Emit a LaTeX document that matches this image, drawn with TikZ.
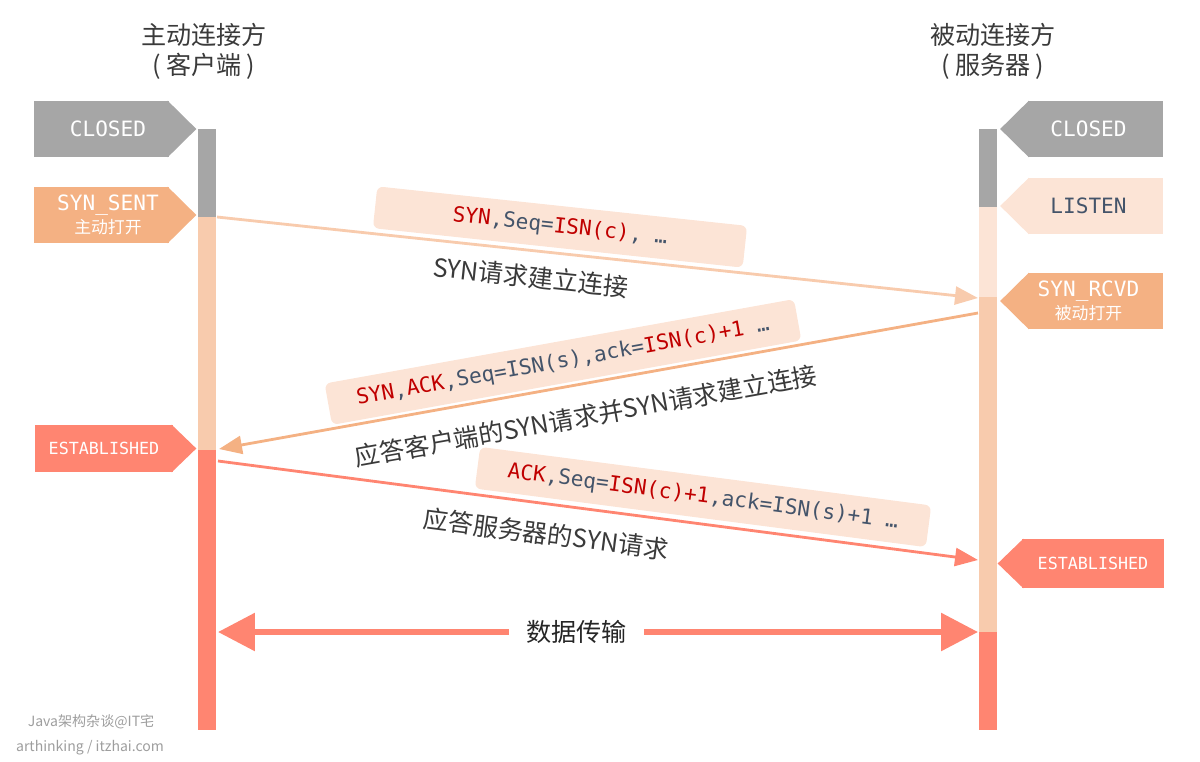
\documentclass[tikz,border=0pt]{standalone}
\usepackage{fontspec}
\setmainfont{Noto Sans CJK SC}
\setmonofont{DejaVu Sans Mono}
\usetikzlibrary{arrows.meta, positioning, calc}
\definecolor{TagGray}{HTML}{A6A6A6}
\definecolor{Peach}{HTML}{F4B183}
\definecolor{LightPeach}{HTML}{F8CBAD}
\definecolor{PalePeach}{HTML}{FCE4D6}
\definecolor{Salmon}{HTML}{FF8571}
\definecolor{CodeRed}{HTML}{C00000}
\definecolor{Slate}{HTML}{44546A}
\definecolor{Ink}{HTML}{3A3A3A}
\newcommand{\kw}[1]{\textcolor{CodeRed}{#1}}
\newcommand{\subtagfont}{\rmfamily\fontsize{9.6}{11}\selectfont}
\newcommand{\tagshift}{\hspace*{0.26cm}}

\begin{document}
\begin{tikzpicture}[
    x=0.02cm, y=-0.02cm,
    every node/.style={align=center},
    tag/.style={rectangle, inner sep=0pt, minimum width=2.7cm, minimum height=1.12cm, text=white, font=\ttfamily\fontsize{12}{14}\selectfont},
    header/.style={font=\fontsize{14.3}{17}\selectfont, text=Ink},
    msgbox/.style={fill=PalePeach, rounded corners=0.12cm, minimum height=0.84cm, text=Slate, font=\ttfamily\fontsize{12}{14}\selectfont},
    msglabel/.style={inner sep=0pt, font=\fontsize{14.3}{17}\selectfont, text=Ink},
    msg/.style={line width=1.6pt, -{Triangle[length=0.46cm, width=0.36cm]}},
    xfer/.style={line width=3.4pt, Salmon, {Triangle[length=0.74cm, width=0.74cm]}-{Triangle[length=0.74cm, width=0.74cm]}},
    wmark/.style={font=\fontsize{8}{10}\selectfont, text=black!38}
]
\useasboundingbox (0,0) rectangle (1200,761);

% headers
\node[header] (client) at (204,51) {主动连接方\\(\hspace{0.2em}客户端\hspace{0.2em})};
\node[header] (server) at (993,51) {被动连接方\\(\hspace{0.2em}服务器\hspace{0.2em})};

% lifelines
\fill[TagGray] (198,129) rectangle (216,217);
\fill[LightPeach] (198,217) rectangle (216,450);
\fill[Salmon] (198,450) rectangle (216,730);
\fill[TagGray] (979,129) rectangle (997,207);
\fill[PalePeach] (979,207) rectangle (997,297);
\fill[LightPeach] (979,297) rectangle (997,632);
\fill[Salmon] (979,632) rectangle (997,730);

% client states
\node[tag, fill=TagGray] (c-closed) at (101.5,129) {\tagshift CLOSED};
\fill[TagGray] ([xshift=-1pt]c-closed.north east) -- ([xshift=0.54cm]c-closed.east) -- ([xshift=-1pt]c-closed.south east) -- cycle;
\node[tag, fill=Peach] (c-sent) at (101.5,215) {\tagshift SYN\_SENT\\[-1pt]\tagshift{\subtagfont 主动打开}};
\fill[Peach] ([xshift=-1pt]c-sent.north east) -- ([xshift=0.54cm]c-sent.east) -- ([xshift=-1pt]c-sent.south east) -- cycle;
\node[tag, fill=Salmon, minimum width=2.76cm, minimum height=0.94cm, font=\ttfamily\fontsize{9.5}{11}\selectfont] (c-est) at (104,448.5) {ESTABLISHED};
\fill[Salmon] ([xshift=-1pt]c-est.north east) -- ([xshift=0.46cm]c-est.east) -- ([xshift=-1pt]c-est.south east) -- cycle;

% server states
\node[tag, fill=TagGray] (s-closed) at (1095,129) {CLOSED\tagshift};
\fill[TagGray] ([xshift=1pt]s-closed.north west) -- ([xshift=-0.54cm]s-closed.west) -- ([xshift=1pt]s-closed.south west) -- cycle;
\node[tag, fill=PalePeach, text=Slate] (s-listen) at (1095,206) {LISTEN\tagshift};
\fill[PalePeach] ([xshift=1pt]s-listen.north west) -- ([xshift=-0.54cm]s-listen.west) -- ([xshift=1pt]s-listen.south west) -- cycle;
\node[tag, fill=Peach] (s-rcvd) at (1095,301) {SYN\_RCVD\tagshift\\[-1pt]{\subtagfont 被动打开}\tagshift};
\fill[Peach] ([xshift=1pt]s-rcvd.north west) -- ([xshift=-0.54cm]s-rcvd.west) -- ([xshift=1pt]s-rcvd.south west) -- cycle;
\node[tag, fill=Salmon, minimum width=2.84cm, minimum height=0.98cm, font=\ttfamily\fontsize{9.5}{11}\selectfont] (s-est) at (1093,563.5) {ESTABLISHED};
\fill[Salmon] ([xshift=1pt]s-est.north west) -- ([xshift=-0.48cm]s-est.west) -- ([xshift=1pt]s-est.south west) -- cycle;

% segment boxes
\node[msgbox, minimum width=7.44cm, rotate=-6.1] (box1) at (560,227) {\kw{SYN},Seq=\kw{ISN(c)}, …};
\node[msgbox, minimum width=9.54cm, rotate=10.2] (box2) at (563,362) {\kw{SYN},\kw{ACK},Seq=ISN(s),ack=\kw{ISN(c)+1} …};
\node[msgbox, minimum width=9.1cm, rotate=-7.4] (box3) at (703,497) {\kw{ACK},Seq=\kw{ISN(c)+1},ack=ISN(s)+1 …};

\node[msglabel, rotate=-6.1] (lab1) at (531,277) {SYN请求建立连接};
\node[msglabel, rotate=10.2] (lab2) at (586,416) {应答客户端的SYN请求并SYN请求建立连接};
\node[msglabel, rotate=-7.4] (lab3) at (546,534) {应答服务器的SYN请求};

% handshake
\coordinate (c1) at (217,217);
\coordinate (s1) at (978,298);
\coordinate (s2) at (978,313);
\coordinate (c2) at (219,449);
\coordinate (c3) at (218,461);
\coordinate (s3) at (978,560);
\coordinate (c4) at (218,632);
\coordinate (s4) at (978,632);
\draw[msg, LightPeach] (c1) -- (s1);
\draw[msg, Peach] (s2) -- (c2);
\draw[msg, Salmon] (c3) -- (s3);
\draw[xfer] (c4) -- node[pos=0.472, fill=white, inner xsep=0.34cm, font=\fontsize{14.3}{17}\selectfont, text=black!85] (data) {数据传输} (s4);

% watermark
\node[wmark] (wm1) at (91,722) {Java架构杂谈@IT宅};
\node[wmark] (wm2) at (90,748) {arthinking / itzhai.com};
\end{tikzpicture}
\end{document}
